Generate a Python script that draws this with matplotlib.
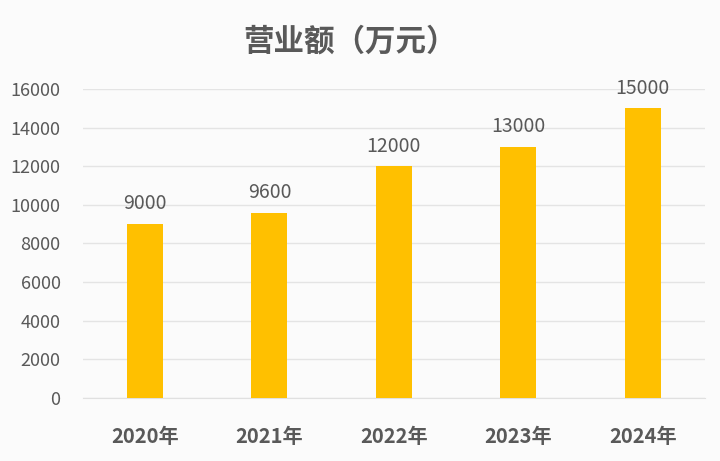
import matplotlib

matplotlib.use("Agg")
import matplotlib.pyplot as plt
import numpy as np

plt.rcParams["font.family"] = ["Noto Sans CJK SC", "DejaVu Sans"]

years = ["2020年", "2021年", "2022年", "2023年", "2024年"]
revenue = [9000, 9600, 12000, 13000, 15000]
yticks = [0, 2000, 4000, 6000, 8000, 10000, 12000, 14000, 16000]

text_color = "#595959"
bar_color = "#FFC000"

fig = plt.figure(figsize=(7.2, 4.61), dpi=100, facecolor="#fbfbfb")
ax = fig.add_axes([0.115, 0.137, 0.864, 0.670], facecolor="#fbfbfb")

x = np.arange(len(years))
ax.bar(x, revenue, width=0.29, color=bar_color, zorder=3)
for xi, v in zip(x, revenue):
    ax.text(xi, v + 500, str(v), ha="center", va="bottom",
            fontsize=14, color=text_color)

ax.set_xlim(-0.5, len(years) - 0.5)
ax.set_ylim(0, 16000)
ax.set_yticks(yticks)
ax.set_yticklabels([str(t) for t in yticks], fontsize=13, color=text_color)
ax.set_xticks(x)
ax.set_xticklabels(years, fontsize=14.5, fontweight="bold", color=text_color)
ax.tick_params(axis="both", length=0)
ax.tick_params(axis="x", pad=20)
ax.tick_params(axis="y", pad=16)
ax.grid(axis="y", color="#e4e4e4", lw=1, zorder=0)
for s in ["top", "right", "left"]:
    ax.spines[s].set_visible(False)
ax.spines["bottom"].set_color("#e0e0e0")

fig.text(0.486, 0.91, "营业额（万元）", ha="center", va="center",
         fontsize=22, fontweight="bold", color=text_color)

fig.savefig("out.png", facecolor=fig.get_facecolor())
